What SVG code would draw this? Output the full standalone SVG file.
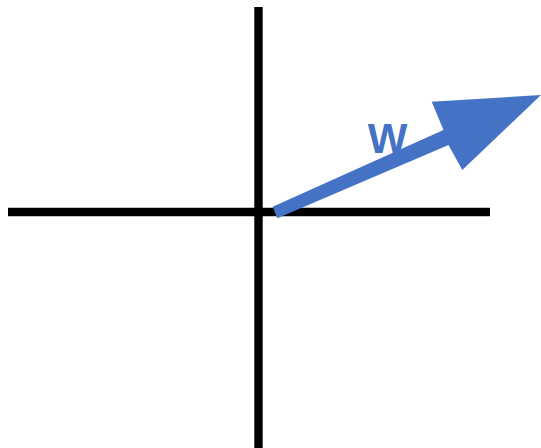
<svg xmlns="http://www.w3.org/2000/svg" width="541" height="448" viewBox="0 0 541 448">
<style>
.axis{stroke:#000;stroke-width:8.4;fill:none}
.vec{fill:#4472C4}
.lbl{font-family:"Liberation Sans",Arial,sans-serif;font-weight:bold;font-size:42px;fill:#4472C4}
</style>
<rect width="541" height="448" fill="#fff"/>
<g id="axes">
<line class="axis" x1="8" y1="212" x2="490" y2="212"/>
<line class="axis" x1="258.5" y1="7" x2="258.5" y2="448"/>
</g>
<g id="vector-w">
<polygon class="vec" points="272.7,206.7 443.5,130 431.7,101.7 541,95 462.3,170 448.5,145 277.3,218.3"/>
<text class="lbl" x="387.5" y="152.7" text-anchor="middle">W</text>
</g>
</svg>
